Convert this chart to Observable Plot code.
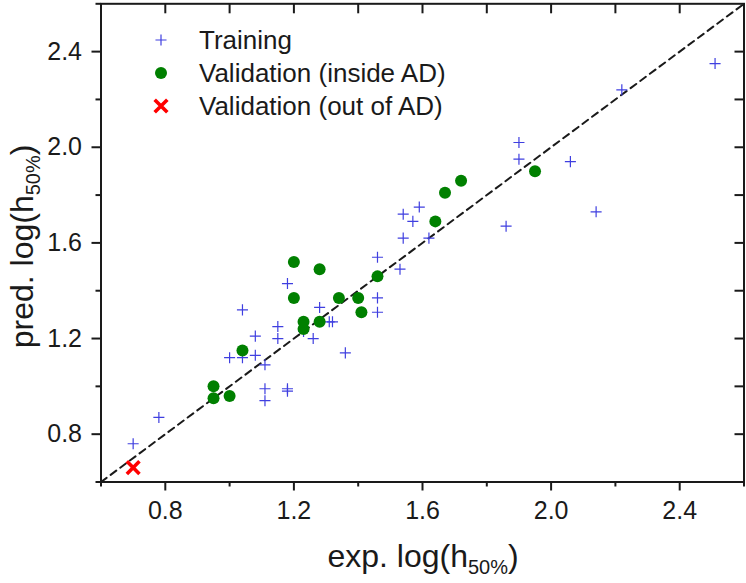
<!DOCTYPE html>
<html><head><meta charset="utf-8">
<script src="https://cdn.jsdelivr.net/npm/d3@7"></script>
<script src="https://cdn.jsdelivr.net/npm/@observablehq/plot@0.6"></script>
<style>
html,body{margin:0;padding:0;background:#fff;}
#chart{position:relative;width:746px;height:583px;}
</style>
</head><body><div id="chart"></div>
<script>
// ---- data ----
const trainingX = [0.70,0.78,1.04,1.00,1.04,1.08,1.08,1.11,1.11,1.11,1.18,1.15,1.15,1.18,1.18,1.28,1.23,1.26,1.31,1.32,1.36,1.54,1.59,1.57,1.54,1.62,1.86,1.46,1.53,1.46,1.46,1.90,1.90,2.06,2.14,2.22,2.51];
const trainingY = [0.76,0.87,1.32,1.12,1.12,1.21,1.13,1.09,0.99,0.94,1.43,1.25,1.20,0.99,0.98,1.33,1.23,1.20,1.27,1.27,1.14,1.72,1.75,1.69,1.62,1.62,1.67,1.54,1.49,1.37,1.31,2.02,1.95,1.94,1.73,2.24,2.35];
const validInX = [1.20,1.28,1.20,1.34,1.23,1.23,1.28,1.04,0.95,0.95,1.00,1.72,1.67,1.64,1.95,1.46,1.40,1.41];
const validInY = [1.52,1.49,1.37,1.37,1.27,1.24,1.27,1.15,1.00,0.95,0.96,1.86,1.81,1.69,1.90,1.46,1.37,1.31];
const validOutX = [0.70];
const validOutY = [0.66];
const identityLine = [0.6, 2.6];
const domain = [0.6, 2.6];
const majorTicks = [0.8, 1.2, 1.6, 2.0, 2.4];
const minorTicks = [0.6, 1.0, 1.4, 1.8, 2.2, 2.6];
const innerTicks = [0.8, 1.0, 1.2, 1.4, 1.6, 1.8, 2.0, 2.2, 2.4];
const seriesNames = ["Training", "Validation (inside AD)", "Validation (out of AD)"];
const xTitle = ["exp. log(h", "50%", ")"];
const yTitle = ["pred. log(h", "50%", ")"];

const training = trainingX.map((x, i) => ({x, y: trainingY[i]}));
const validIn = validInX.map((x, i) => ({x, y: validInY[i]}));
const validOut = validOutX.map((x, i) => ({x, y: validOutY[i]}));

// ---- styles ----
const W = 746, H = 583, mL = 100.5, mR = 2.5, mT = 3.3, mB = 101.5;
const plotW = W - mL - mR, plotH = H - mT - mB;
const ink = "#1a1a1a";
const blue = "#3f3fe0", green = "#008000", red = "#ff0000";
const font = "'Liberation Sans', Arial, Helvetica, sans-serif";
const plusR = 3.65, dotR = 6, timesR = 5.8;

const chart = Plot.plot({
  width: W, height: H,
  marginLeft: mL, marginRight: mR, marginTop: mT, marginBottom: mB,
  style: {fontFamily: font, color: ink, background: "#fff", overflow: "visible"},
  x: {domain, label: null},
  y: {domain, label: null},
  marks: [
    Plot.line(identityLine, {x: d => d, y: d => d, stroke: ink, strokeWidth: 2, strokeDasharray: "7,5"}),
    Plot.dot(training, {x: "x", y: "y", symbol: "plus", r: plusR, stroke: blue, strokeWidth: 1.2}),
    Plot.dot(validIn, {x: "x", y: "y", symbol: "circle", r: dotR, fill: green, stroke: "none"}),
    Plot.dot(validOut, {x: "x", y: "y", symbol: "times", r: timesR, stroke: red, strokeWidth: 3.6}),
    Plot.frame({stroke: ink, strokeWidth: 2}),
    Plot.axisX({ticks: majorTicks, anchor: "bottom", tickSize: 9, tickPadding: 10, strokeWidth: 2,
      tickFormat: d => d.toFixed(1), fontSize: 25, label: null}),
    Plot.axisX({ticks: minorTicks, anchor: "bottom", tickSize: 5, strokeWidth: 2, tickFormat: () => "", label: null}),
    Plot.axisY({ticks: majorTicks, anchor: "left", tickSize: 9, tickPadding: 10, strokeWidth: 2,
      tickFormat: d => d.toFixed(1), fontSize: 25, label: null}),
    Plot.axisY({ticks: minorTicks, anchor: "left", tickSize: 5, strokeWidth: 2, tickFormat: () => "", label: null}),
    Plot.tickX(innerTicks, {x: d => d, insetBottom: plotH - 10, stroke: ink, strokeWidth: 2}),
    Plot.tickY(innerTicks, {y: d => d, insetLeft: plotW - 9, stroke: ink, strokeWidth: 2})
  ]
});

document.getElementById("chart").appendChild(chart);

const svg = d3.select(chart);

// axis titles with subscripts
function title(g, parts) {
  const t = g.append("text").attr("text-anchor", "middle").attr("font-size", 32)
    .attr("fill", ink).attr("font-family", font);
  t.append("tspan").text(parts[0]);
  t.append("tspan").attr("font-size", 20).attr("dy", 7).text(parts[1]);
  t.append("tspan").attr("dy", -7).text(parts[2]);
  return t;
}
const xs = chart.scale("x"), ys = chart.scale("y");
const cx = (xs.range[0] + xs.range[1]) / 2;
const cy = (ys.range[0] + ys.range[1]) / 2;
title(svg.append("g").attr("transform", `translate(${cx + 1},567)`), xTitle);
title(svg.append("g").attr("transform", `translate(33,${cy + 4}) rotate(-90)`), yTitle);

// legend
const leg = svg.append("g").attr("transform", "translate(161,40)");
const rowH = 33;
const syms = [
  {sym: d3.symbolPlus, size: Math.PI * plusR * plusR, stroke: blue, fill: "none", sw: 1.2},
  {sym: d3.symbolCircle, size: Math.PI * dotR * dotR, stroke: "none", fill: green, sw: 0},
  {sym: d3.symbolTimes, size: Math.PI * timesR * timesR, stroke: red, fill: "none", sw: 3.6}
];
seriesNames.forEach((name, i) => {
  const row = leg.append("g").attr("transform", `translate(0,${i * rowH})`);
  row.append("path").attr("d", d3.symbol(syms[i].sym, syms[i].size)())
    .attr("fill", syms[i].fill).attr("stroke", syms[i].stroke).attr("stroke-width", syms[i].sw);
  row.append("text").attr("x", 38).attr("y", 9).attr("font-size", 26).attr("text-anchor", "start")
    .attr("font-family", font).attr("fill", ink).text(name);
});
</script>
</body></html>
